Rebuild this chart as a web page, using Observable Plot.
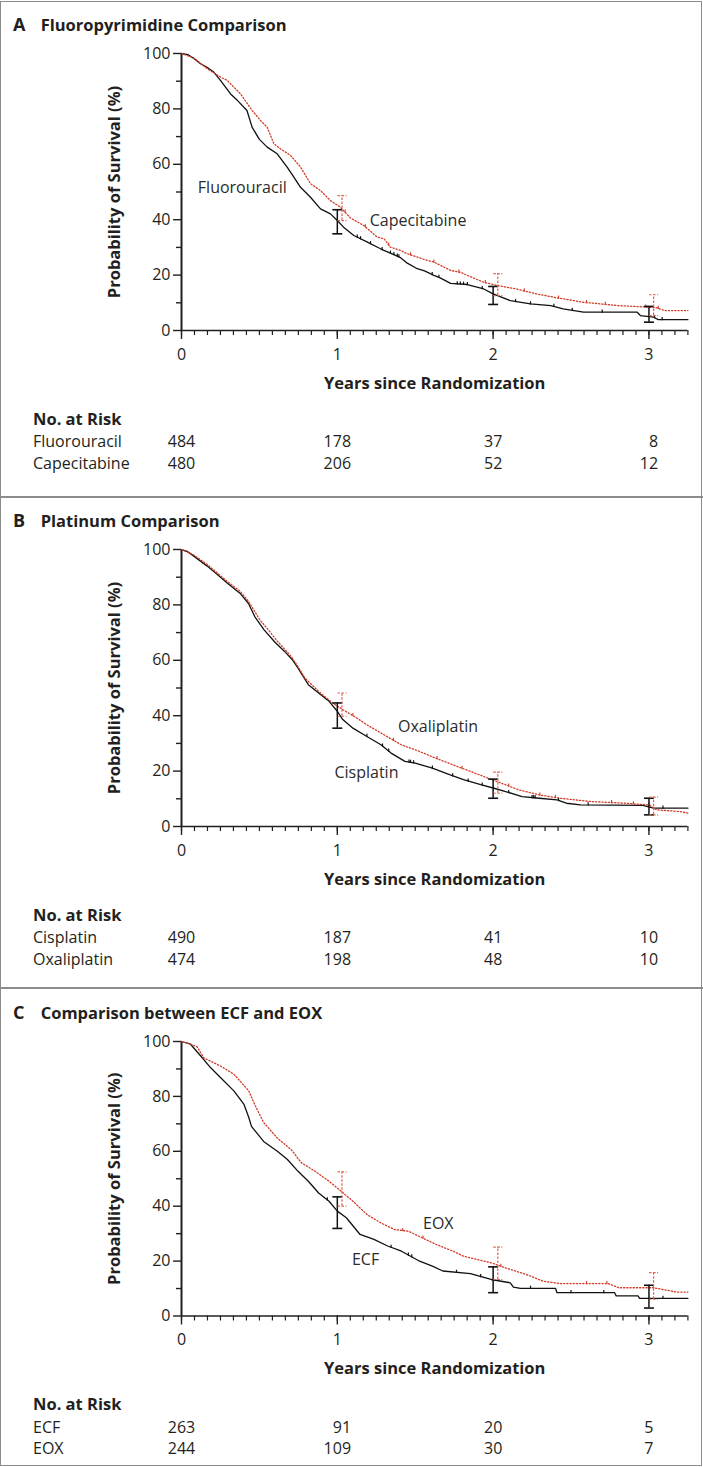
<!DOCTYPE html>
<html><head><meta charset="utf-8">
<script src="https://cdn.jsdelivr.net/npm/d3@7"></script>
<script src="https://cdn.jsdelivr.net/npm/@observablehq/plot@0.6"></script>
<style>
body{margin:0;background:#fff;font-family:"Open Sans",sans-serif;color:#231f20}
#fig{position:relative;width:703px;height:1467px;overflow:hidden}
.frame{position:absolute;left:0;top:1px;width:700px;height:1463px;border:1.5px solid #8c8c8c}
.sep{position:absolute;left:0;width:703px;height:2px;background:#8c8c8c}
.panel{position:absolute;left:0;width:703px}
.title{position:absolute;left:13px;font-weight:700;font-size:16.5px;line-height:20px;white-space:nowrap}
.title .let{display:inline-block;width:27.7px;font-size:18px}
.panel svg{position:absolute;left:0;top:0}
</style></head>
<body><div id="fig"><div class="frame"></div></div>
<script>
// ---------- data ----------
const years = [0, 1, 2, 3];
const yMajor = [0, 20, 40, 60, 80, 100];
const yMinor = [10, 30, 50, 70, 90];
const monthTicks = d3.range(0, 40).map(m => m / 12);

// Panel A
const fluorouracilT = [0,0.04,0.08,0.122,0.17,0.207,0.25,0.315,0.36,0.42,0.453,0.5,0.55,0.614,0.678,0.72,0.764,0.828,0.892,0.956,1.0,1.04,1.106,1.19,1.277,1.363,1.406,1.449,1.513,1.56,1.62,1.66,1.727,1.834,1.94,2.0,2.11,2.24,2.37,2.45,2.58,2.925,2.945,3.03,3.06,3.25];
const fluorouracilS = [100,99.6,98.2,96.3,94.8,93.3,90.3,85.4,83.0,79.4,73.4,69.0,66.2,63.8,59.0,55.5,51.7,48.1,43.9,42.1,39.7,37.3,34.3,32.0,29.5,27.4,26.3,24.3,22.3,21.5,19.9,19.0,17.0,16.6,15.0,13.2,10.8,9.6,9.0,7.8,6.6,6.6,5.4,4.8,3.9,3.9];
const capecitabineT = [0,0.079,0.165,0.25,0.293,0.379,0.454,0.507,0.55,0.593,0.635,0.7,0.764,0.828,0.892,0.956,1.02,1.085,1.17,1.256,1.3,1.34,1.406,1.449,1.513,1.577,1.62,1.684,1.727,1.79,1.834,1.94,2.03,2.15,2.28,2.41,2.58,2.8,3.01,3.05,3.1,3.25];
const capecitabineS = [100,98.4,94.5,91.5,90.3,85.4,79.4,75.8,73.4,67.4,65.6,63.2,59.0,53.0,50.5,46.9,44.5,40.6,37.9,33.7,33.1,30.1,28.9,27.7,26.5,25.3,24.7,22.9,21.7,21.0,19.9,17.4,16.2,15.0,13.2,11.8,10.2,9.0,8.4,8.2,7.2,7.2];
const fluorouracilCensor = [1.128,1.149,1.213,1.288,1.341,1.363,1.385,1.395,1.609,1.652,1.77,1.79,1.81,1.835,1.93,2.144,2.24,2.39,2.508,2.7,3.036,3.085];
const capecitabineCensor = [1.05,1.18,1.33,1.47,1.62,1.78,1.95,2.2,2.42,2.6,2.72,2.98,3.06];
const fluorouracilErrT = [1, 2, 3], fluorouracilErrLo = [34.9, 9.4, 3.0], fluorouracilErrHi = [43.6, 15.9, 8.7];
const capecitabineErrT = [1.03, 2.03, 3.03], capecitabineErrLo = [39.7, 12.6, 5.4], capecitabineErrHi = [48.7, 20.5, 12.9];
const fluorouracilRisk = [484, 178, 37, 8];
const capecitabineRisk = [480, 206, 52, 12];

// Panel B
const cisplatinT = [0,0.04,0.079,0.165,0.23,0.293,0.379,0.43,0.47,0.53,0.6,0.66,0.71,0.75,0.814,0.88,0.947,1.0,1.035,1.1,1.19,1.28,1.345,1.434,1.5,1.61,1.72,1.81,1.92,2.0,2.075,2.186,2.296,2.41,2.47,2.56,2.96,3.03,3.25];
const cisplatinS = [100,99.2,97.6,94.0,91.0,87.9,84.0,80.5,75.8,71.0,66.5,63.3,60.3,57.0,51.2,48.2,45.2,41.6,38.6,35.5,32.5,29.5,26.5,23.5,22.9,21.1,18.7,16.9,15.1,13.9,12.7,10.8,10.2,9.6,8.4,7.8,7.6,6.6,6.6];
const oxaliplatinT = [0,0.079,0.165,0.293,0.379,0.43,0.504,0.55,0.615,0.704,0.75,0.792,0.88,0.969,1.035,1.124,1.19,1.3,1.41,1.5,1.63,1.74,1.854,1.965,2.05,2.16,2.296,2.43,2.63,2.85,3.0,3.05,3.2,3.25];
const oxaliplatinS = [100,98.0,94.6,88.5,84.8,81.3,74.5,71.5,66.9,61.4,57.5,53.6,48.8,44.6,42.2,39.2,36.7,33.1,29.5,27.7,24.7,22.3,19.9,17.5,15.7,13.3,11.4,10.2,9.0,8.4,7.8,6.0,5.4,4.8];
const cisplatinCensor = [1.19,1.29,1.33,1.46,1.47,1.49,1.61,1.74,1.84,1.93,2.1,2.25,2.26,2.27,2.42,2.61,3.09];
const oxaliplatinCensor = [1.1,1.36,1.64,1.8,2.1,2.3,2.4,2.76,2.9,3.0];
const cisplatinErrT = [1, 2, 3], cisplatinErrLo = [35.5, 10.2, 4.2], cisplatinErrHi = [44.6, 17.1, 10.2];
const oxaliplatinErrT = [1.03, 2.03, 3.03], oxaliplatinErrLo = [39.8, 12.0, 4.2], oxaliplatinErrHi = [48.2, 19.6, 10.6];
const cisplatinRisk = [490, 187, 41, 10];
const oxaliplatinRisk = [474, 198, 48, 10];

// Panel C
const ecfT = [0,0.058,0.122,0.186,0.25,0.336,0.4,0.432,0.449,0.527,0.615,0.68,0.748,0.814,0.88,0.947,1.0,1.058,1.146,1.235,1.323,1.412,1.52,1.61,1.677,1.854,1.987,2.11,2.13,2.175,2.4,2.41,2.78,2.79,2.93,2.94,3.25];
const ecfS = [100,99.0,94.8,90.5,86.9,82.0,77.2,72.3,69.1,63.6,60.0,57.0,52.7,49.1,44.8,41.8,38.2,35.8,29.7,27.9,25.5,23.6,20.2,18.2,16.4,15.4,13.3,12.1,10.5,10.1,10.1,8.5,8.5,7.3,7.3,6.4,6.4];
const eoxT = [0,0.05,0.1,0.143,0.25,0.336,0.432,0.47,0.527,0.615,0.704,0.77,0.858,0.947,1.024,1.1,1.19,1.28,1.367,1.456,1.544,1.633,1.743,1.81,1.987,2.075,2.21,2.32,2.43,2.74,2.805,3.03,3.18,3.25];
const eoxS = [100,99.2,98.1,94.0,91.1,88.1,82.0,77.0,70.5,64.8,60.6,55.8,52.7,49.1,45.5,41.8,37.0,33.9,31.5,30.9,28.5,26.1,23.6,21.8,19.4,17.6,15.2,12.7,11.8,11.8,10.3,10.3,8.7,8.7];
const ecfCensor = [0.936,1.345,1.456,1.478,1.765,1.92,2.24,2.5,2.71,3.09];
const eoxCensor = [1.42,1.55,2.05,2.6,2.73];
const ecfErrT = [1, 2, 3], ecfErrLo = [31.9, 8.5, 2.9], ecfErrHi = [43.4, 17.9, 11.2];
const eoxErrT = [1.03, 2.03, 3.03], eoxErrLo = [40.0, 13.3, 6.1], eoxErrHi = [52.5, 25.1, 15.8];
const ecfRisk = [263, 91, 20, 5];
const eoxRisk = [244, 109, 30, 7];

// ---------- drawing ----------
const INK = "#231f20", RED = "#d23a26", REDLIGHT = "#e2604c";
const FONT = "'Open Sans', sans-serif";

const hbar = {draw(ctx, size) { const r = Math.sqrt(size / Math.PI); ctx.moveTo(-r, 0); ctx.lineTo(r, 0); }};
const vtick = {draw(ctx, size) { const r = Math.sqrt(size / Math.PI); ctx.moveTo(0, -r); ctx.lineTo(0, r * 0.25); }};

const zip = (T, S) => T.map((t, i) => ({t, s: S[i]}));
function at(T, S, t) {
  for (let i = 1; i < T.length; i++) if (t <= T[i]) {
    const f = (t - T[i-1]) / (T[i] - T[i-1]); return S[i-1] + f * (S[i] - S[i-1]);
  }
  return S[S.length - 1];
}

function makePanel(cfg) {
  const {top, height, innerH, letter, title, A, B, names, labels} = cfg;
  const mt = 52, mb = height - mt - innerH, ml = 181;
  const div = document.createElement("div");
  div.className = "panel"; div.style.top = top + "px"; div.style.height = height + "px";
  const marks = [
    Plot.axisY({ticks: yMajor, tickSize: 8, tickPadding: 3, label: null, strokeWidth: 1.4, fontSize: 16}),
    Plot.axisY({ticks: yMinor, tickSize: 5, tickFormat: () => "", label: null, strokeWidth: 1.4}),
    Plot.axisX({ticks: years, tickSize: 9, tickPadding: 9, tickFormat: d3.format("d"), label: null, strokeWidth: 1.4, fontSize: 16}),
    Plot.axisX({ticks: monthTicks, tickSize: 5, tickFormat: () => "", label: null, strokeWidth: 1.2}),
    Plot.ruleY([0], {strokeWidth: 1.5, stroke: INK}),
    Plot.ruleX([0], {y1: 0, y2: 100, strokeWidth: 2, stroke: INK}),
    Plot.text(["Probability of Survival (%)"], {frameAnchor: "left", dx: -67, rotate: -90, textAnchor: "middle", fontWeight: "bold", fontSize: 16.5}),
    Plot.text(["Years since Randomization"], {frameAnchor: "bottom", dy: 58, fontWeight: "bold", fontSize: 16.5}),
    Plot.text(["No. at Risk"], {frameAnchor: "bottom-left", dx: 32.5 - ml, dy: 94, textAnchor: "start", fontWeight: "bold", fontSize: 16.5}),
    // curves
    Plot.line(zip(A.T, A.S), {x: "t", y: "s", stroke: "#111", strokeWidth: 1.3}),
    Plot.line(zip(B.T, B.S), {x: "t", y: "s", stroke: RED, strokeWidth: 1.3, strokeDasharray: "1.2 2"}),
    // censor marks
    Plot.dot(A.C, {x: d => d, y: d => at(A.T, A.S, d), symbol: vtick, r: 2.6, fill: "none", stroke: "#111", strokeWidth: 1.2}),
    Plot.dot(B.C, {x: d => d, y: d => at(B.T, B.S, d), symbol: vtick, r: 2.6, fill: "none", stroke: RED, strokeWidth: 1.1}),
    // error bars
    Plot.ruleX(A.E.t, {x: d => d, y1: (d, i) => A.E.lo[i], y2: (d, i) => A.E.hi[i], stroke: "#111", strokeWidth: 1.5}),
    Plot.dot(A.E.t.concat(A.E.t), {x: d => d, y: (d, i) => i < 3 ? A.E.lo[i] : A.E.hi[i - 3], symbol: hbar, r: 5, fill: "none", stroke: "#111", strokeWidth: 1.6}),
    Plot.ruleX(B.E.t, {x: d => d, y1: (d, i) => B.E.lo[i], y2: (d, i) => B.E.hi[i], stroke: REDLIGHT, strokeWidth: 1.2, strokeDasharray: "2.5 1.5"}),
    Plot.dot(B.E.t.concat(B.E.t), {x: d => d, y: (d, i) => i < 3 ? B.E.lo[i] : B.E.hi[i - 3], symbol: hbar, r: 4.5, fill: "none", stroke: REDLIGHT, strokeWidth: 1.2, strokeDasharray: "2.5 1.5"}),
    // curve labels
    Plot.text(labels, {x: "t", y: "s", text: "text", fontSize: 16, fill: "#2b2b2b"})
  ];
  // at-risk rows
  const rows = [A.R, B.R];
  const digitW = 16 * 0.572;
  rows.forEach((risk, r) => {
    const dy = 116.5 + r * 21.5;
    marks.push(Plot.text([names[r]], {frameAnchor: "bottom-left", dx: 32.5 - ml, dy, textAnchor: "start", fontSize: 16}));
    years.forEach((yr, c) => {
      const w = Math.max(String(A.R[c]).length, String(B.R[c]).length);
      marks.push(Plot.text([risk[c]], {x: () => yr, text: d => String(d), frameAnchor: "bottom", dy, dx: w * digitW / 2, textAnchor: "end", fontSize: 16}));
    });
  });
  const svg = Plot.plot({
    width: 703, height, marginLeft: ml, marginRight: 15.6, marginTop: mt, marginBottom: mb,
    x: {domain: [0, 3.25]}, y: {domain: [0, 100]},
    style: {fontFamily: FONT, fontSize: "16px", color: INK, background: "transparent", overflow: "visible"},
    marks
  });
  div.appendChild(svg);
  const t = document.createElement("div");
  t.className = "title"; t.style.top = "13px";
  t.innerHTML = `<span class="let">${letter}</span>${title}`;
  div.appendChild(t);
  document.getElementById("fig").appendChild(div);
}

makePanel({
  top: 1, height: 494, innerH: 277, letter: "A", title: "Fluoropyrimidine Comparison",
  A: {T: fluorouracilT, S: fluorouracilS, C: fluorouracilCensor, E: {t: fluorouracilErrT, lo: fluorouracilErrLo, hi: fluorouracilErrHi}, R: fluorouracilRisk},
  B: {T: capecitabineT, S: capecitabineS, C: capecitabineCensor, E: {t: capecitabineErrT, lo: capecitabineErrLo, hi: capecitabineErrHi}, R: capecitabineRisk},
  names: ["Fluorouracil", "Capecitabine"],
  labels: [{t: 0.39, s: 51.6, text: "Fluorouracil"}, {t: 1.518, s: 39.7, text: "Capecitabine"}]
});
makePanel({
  top: 497, height: 490, innerH: 277, letter: "B", title: "Platinum Comparison",
  A: {T: cisplatinT, S: cisplatinS, C: cisplatinCensor, E: {t: cisplatinErrT, lo: cisplatinErrLo, hi: cisplatinErrHi}, R: cisplatinRisk},
  B: {T: oxaliplatinT, S: oxaliplatinS, C: oxaliplatinCensor, E: {t: oxaliplatinErrT, lo: oxaliplatinErrLo, hi: oxaliplatinErrHi}, R: oxaliplatinRisk},
  names: ["Cisplatin", "Oxaliplatin"],
  labels: [{t: 1.187, s: 19.3, text: "Cisplatin"}, {t: 1.646, s: 36.1, text: "Oxaliplatin"}]
});
makePanel({
  top: 989, height: 476, innerH: 274.5, letter: "C", title: "Comparison between ECF and EOX",
  A: {T: ecfT, S: ecfS, C: ecfCensor, E: {t: ecfErrT, lo: ecfErrLo, hi: ecfErrHi}, R: ecfRisk},
  B: {T: eoxT, S: eoxS, C: eoxCensor, E: {t: eoxErrT, lo: eoxErrLo, hi: eoxErrHi}, R: eoxRisk},
  names: ["ECF", "EOX"],
  labels: [{t: 1.181, s: 20.3, text: "ECF"}, {t: 1.648, s: 33.4, text: "EOX"}]
});
// separators between panels
[495.5, 987].forEach(y => {
  const s = document.createElement("div"); s.className = "sep"; s.style.top = y + "px";
  document.getElementById("fig").appendChild(s);
});
</script></body></html>
